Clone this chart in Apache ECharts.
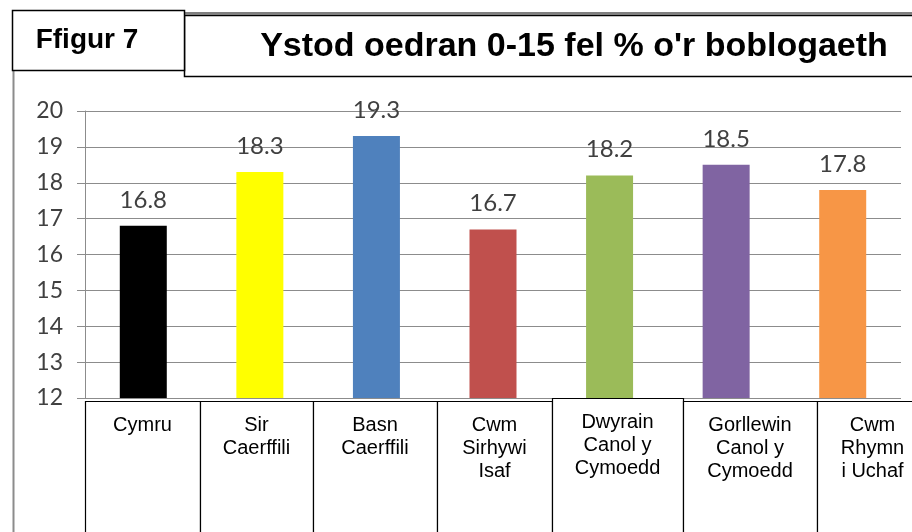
<!DOCTYPE html>
<html>
<head>
<meta charset="utf-8">
<script src="https://cdn.jsdelivr.net/npm/echarts@6/dist/echarts.min.js"></script>
<style>
  html, body { margin: 0; padding: 0; background: #fff; }
  #chart { width: 912px; height: 532px; }
</style>
</head>
<body>
<div id="chart"></div>
<script>
// categorïau (gyda thoriadau llinell fel yn y blychau)
var categories = ['Cymru', 'Sir\nCaerffili', 'Basn\nCaerffili', 'Cwm\nSirhywi\nIsaf',
  'Dwyrain\nCanol y\nCymoedd', 'Gorllewin\nCanol y\nCymoedd', 'Cwm\nRhymn\ni Uchaf'];
var values = [16.8, 18.3, 19.3, 16.7, 18.2, 18.5, 17.8];
var barColors = ['#000000', '#FFFF00', '#4F81BD', '#C0504D', '#9BBB59', '#8064A2', '#F79646'];
var yTicks = [12, 13, 14, 15, 16, 17, 18, 19, 20];

// blychau testun o dan yr echelin (cynllun yn unig)
var boxEdges = [85, 200, 313, 437, 552, 683, 817, 928];
var boxTops = [401, 401, 401, 401, 398, 401, 401];

var myChart = echarts.init(document.getElementById('chart'));

var graphics = [
  // llinell lwyd ar y chwith
  { type: 'line', shape: { x1: 13.5, y1: 70, x2: 13.5, y2: 540 }, style: { stroke: '#8c8c8c', lineWidth: 2 } },
  // blwch teitl
  { type: 'rect', shape: { x: 184.5, y: 15.5, width: 760, height: 61 }, style: { fill: '#fff', stroke: '#000', lineWidth: 1.5 } },
  { type: 'line', shape: { x1: 185, y1: 13.5, x2: 912, y2: 13.5 }, style: { stroke: '#7f7f7f', lineWidth: 3 } },
  { type: 'text', x: 574, y: 47, style: { text: "Ystod oedran 0-15 fel % o'r boblogaeth", font: 'bold 34px "Liberation Sans", Arial',
      fill: '#000', align: 'center', verticalAlign: 'middle' } },
  // blwch Ffigur 7
  { type: 'rect', shape: { x: 12.5, y: 10.5, width: 172, height: 60 }, style: { fill: '#fff', stroke: '#000', lineWidth: 1.5 } },
  { type: 'text', x: 87, y: 40, style: { text: 'Ffigur 7', font: 'bold 28px "Liberation Sans", Arial',
      fill: '#000', align: 'center', verticalAlign: 'middle' } }
];

for (var i = 0; i < categories.length; i++) {
  var x0 = boxEdges[i], x1 = boxEdges[i + 1];
  graphics.push({ type: 'rect', z: 10, shape: { x: x0 + 0.5, y: boxTops[i] + 0.5, width: x1 - x0, height: 160 },
    style: { fill: '#fff', stroke: '#000', lineWidth: 1.2 } });
  graphics.push({ type: 'text', z: 11, x: (x0 + x1) / 2, y: boxTops[i] + 13, style: { text: categories[i],
    font: '20px "Liberation Sans", Arial', lineHeight: 23, fill: '#000', align: 'center', verticalAlign: 'top' } });
}

var option = {
  animation: false,
  backgroundColor: '#fff',
  grid: { left: 85, right: 11, top: 111, bottom: 134 },
  xAxis: {
    type: 'category',
    data: categories,
    axisLine: { show: false },
    axisTick: { show: false },
    axisLabel: { show: false }
  },
  yAxis: {
    type: 'value',
    min: yTicks[0],
    max: yTicks[yTicks.length - 1],
    interval: 1,
    axisLine: { show: true, lineStyle: { color: '#8c8c8c', width: 1 } },
    axisTick: { show: true, length: 8, lineStyle: { color: '#8c8c8c' } },
    axisLabel: { margin: 22, color: '#404040', fontFamily: 'Lato', fontSize: 23 },
    splitLine: { show: true, lineStyle: { color: '#8c8c8c', width: 1 } }
  },
  series: [{
    type: 'bar',
    barWidth: 47,
    data: values.map(function (v, i) {
      return { value: v, itemStyle: { color: barColors[i] } };
    }),
    label: {
      show: true,
      position: 'top',
      distance: 14,
      color: '#404040',
      fontFamily: 'Lato',
      fontSize: 24
    }
  }],
  graphic: graphics
};

myChart.setOption(option);
</script>
</body>
</html>
